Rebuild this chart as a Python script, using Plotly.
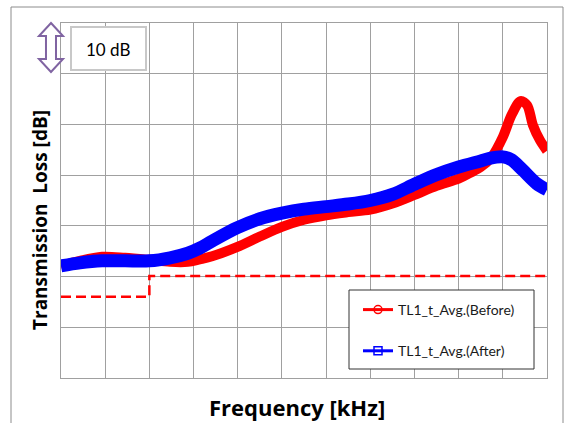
import plotly.graph_objects as go

# ---- data ----
freq_before = [0, 0.43, 0.93, 1.45, 2.0, 2.47, 2.87, 3.14, 3.42, 3.98, 4.5, 5.0, 5.5, 6.0, 6.5,
               7.0, 7.5, 8.0, 8.5, 9.0, 9.25, 9.5, 9.75, 10.0, 10.2, 10.4, 10.55, 10.68, 10.84, 11.0]
tl_before = [22.1, 23.1, 23.9, 23.7, 23.3, 22.9, 22.9, 23.4, 24.0, 25.8, 27.9, 29.8, 31.2, 32.1, 32.7,
             33.2, 34.4, 36.1, 37.9, 39.3, 40.4, 41.6, 43.6, 47.5, 51.9, 54.6, 53.8, 49.9, 46.9, 44.8]

freq_after = [0, 0.43, 0.93, 1.45, 2.0, 2.47, 2.87, 3.14, 3.42, 3.98, 4.5, 5.0, 5.5, 6.0, 6.5,
              7.0, 7.5, 8.0, 8.5, 9.0, 9.5, 9.7, 10.0, 10.2, 10.45, 10.77, 11.0]
tl_after = [22.1, 22.7, 23.1, 23.1, 23.1, 23.7, 24.6, 25.6, 27.0, 29.6, 31.4, 32.5, 33.3, 33.8, 34.3,
            35.0, 36.2, 38.2, 40.1, 41.6, 42.8, 43.3, 43.6, 43.0, 41.0, 38.3, 37.1]

freq_limit = [0, 2.0, 11.0]
tl_limit = [16.0, 20.1, 20.1]

name_before = "TL1_t_Avg.(Before)"
name_after = "TL1_t_Avg.(After)"
scale_label = "10 dB"
x_title = "Frequency [kHz]"
y_title = "Transmission  Loss [dB]"

# ---- layout geometry ----
W, H = 566, 423
L, R, T, B = 61, 547, 23, 378


def px(x):
    return (x - L) / (R - L)


def py(y):
    return (B - y) / (B - T)


fig = go.Figure()

fig.add_trace(go.Scatter(x=freq_limit, y=tl_limit, mode="lines", line_shape="hv",
                         line=dict(color="#FF0000", width=2.5, dash="10px,5px"), showlegend=False))
fig.add_trace(go.Scatter(x=freq_before, y=tl_before, mode="lines",
                         line=dict(color="#FF0000", width=10, shape="spline", smoothing=0.9),
                         showlegend=False))
fig.add_trace(go.Scatter(x=freq_after, y=tl_after, mode="lines",
                         line=dict(color="#0000FF", width=13, shape="spline", smoothing=0.9),
                         showlegend=False))

# legend entries
fig.add_trace(go.Scatter(x=[None], y=[None], mode="lines+markers", name=name_before, legendgroup="a",
                         line=dict(color="#FF0000", width=3),
                         marker=dict(symbol="circle-open", size=8, color="#FF0000", line=dict(width=1.5))))
fig.add_trace(go.Scatter(x=[None], y=[None], mode="lines+markers", name=name_after, legendgroup="b",
                         line=dict(color="#0000FF", width=3),
                         marker=dict(symbol="square-open", size=8, color="#0000FF", line=dict(width=1.5))))

grid = "#a0a0a0"
fig.update_xaxes(range=[0, 11], dtick=1, showgrid=True, gridcolor=grid, gridwidth=1,
                 showticklabels=False, ticks="", zeroline=False,
                 showline=True, linecolor=grid, linewidth=1, mirror=True)
fig.update_yaxes(range=[0, 70], dtick=10, showgrid=True, gridcolor=grid, gridwidth=1,
                 showticklabels=False, ticks="", zeroline=False,
                 showline=True, linecolor=grid, linewidth=1, mirror=True)

arrow_pts = [(51, 23), (63, 36), (56, 36), (56, 59), (63, 59), (51, 72), (39, 59), (46, 59),
             (46, 36), (39, 36)]
arrow_path = "M " + " L ".join(f"{px(a):.4f},{py(b):.4f}" for a, b in arrow_pts) + " Z"

fig.update_layout(
    width=W, height=H,
    margin=dict(l=L, r=W - R, t=T, b=H - B),
    paper_bgcolor="white", plot_bgcolor="white",
    font=dict(family="Lato, sans-serif", color="#000000"),
    showlegend=True,
    legend=dict(x=px(358), y=py(294), xanchor="left", yanchor="top",
                bgcolor="rgba(0,0,0,0)", borderwidth=0,
                font=dict(family="Lato, sans-serif", size=14, color="#1a1a1a"),
                tracegroupgap=20, itemwidth=30),
    shapes=[
        dict(type="rect", xref="paper", yref="paper", x0=px(11), x1=px(563), y0=py(7), y1=py(450),
             line=dict(color="#8c8c8c", width=1), fillcolor="rgba(0,0,0,0)", layer="below"),
        dict(type="rect", xref="paper", yref="paper", x0=px(349), x1=px(534), y0=py(290), y1=py(369),
             line=dict(color="#333333", width=1), fillcolor="white", layer="above"),
        dict(type="rect", xref="paper", yref="paper", x0=px(71), x1=px(146), y0=py(27), y1=py(70),
             line=dict(color="#c8c8c8", width=2), fillcolor="white", layer="above"),
        dict(type="path", xref="paper", yref="paper", path=arrow_path,
             line=dict(color="#8064A2", width=2), fillcolor="white", layer="above"),
    ],
    annotations=[
        dict(text=scale_label, xref="paper", yref="paper", x=px(108), y=py(49), showarrow=False,
             xanchor="center", yanchor="middle",
             font=dict(family="Lato, sans-serif", size=17, color="#000000")),
        dict(text=f"<b>{x_title}</b>", xref="paper", yref="paper", x=px(297), y=py(407),
             showarrow=False, xanchor="center", yanchor="middle",
             font=dict(family="Open Sans, sans-serif", size=22, color="#000000")),
        dict(text=f"<b>{y_title}</b>", xref="paper", yref="paper", x=px(40), y=py(220),
             showarrow=False, textangle=-90, xanchor="center", yanchor="middle",
             font=dict(family="Open Sans, sans-serif", size=19, color="#000000")),
    ],
)

fig.write_html("out.html")
